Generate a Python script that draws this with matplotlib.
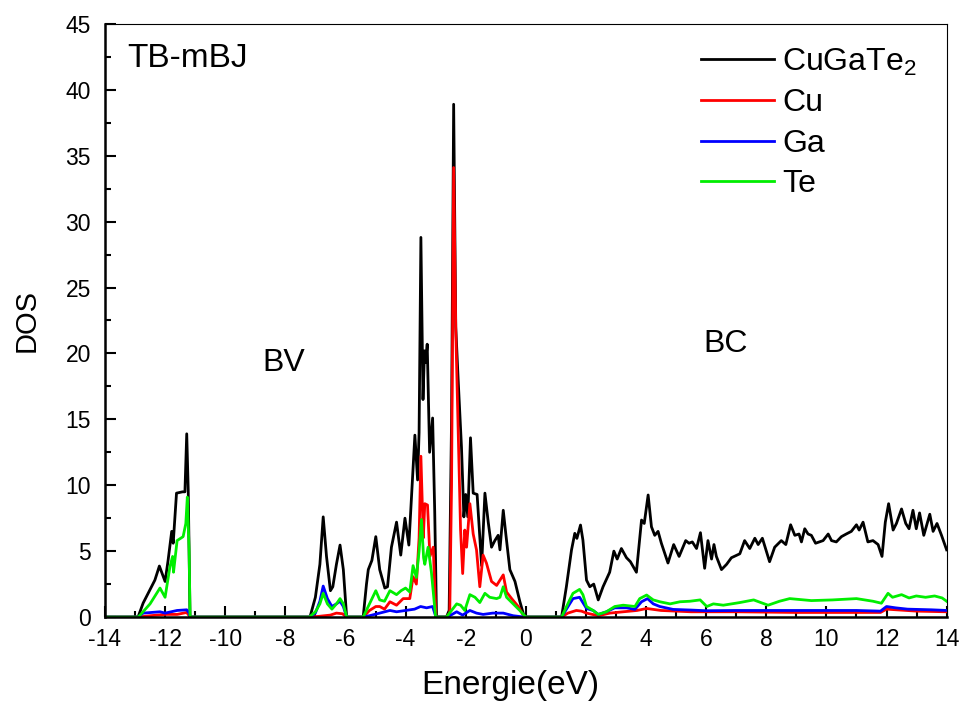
import matplotlib
matplotlib.use("Agg")
import matplotlib.pyplot as plt

plt.rcParams['font.family'] = ['Liberation Sans', 'DejaVu Sans']
plt.rcParams['mathtext.fontset'] = 'custom'
plt.rcParams['mathtext.rm'] = 'Liberation Sans'
plt.rcParams['axes.unicode_minus'] = False

# total DOS (CuGaTe2)
e_tot = [-14, -12.9, -12.73, -12.34, -12.19, -12.0, -11.9, -11.78, -11.73, -11.62, -11.42, -11.34,
         -11.28, -11.23, -11.17,
         -7.18, -7.0, -6.85, -6.74, -6.63, -6.5, -6.42, -6.3, -6.18, -6.07, -5.96,
         -5.41, -5.3, -5.24, -5.12, -4.99, -4.86, -4.69, -4.6, -4.47, -4.3, -4.16, -4.02, -3.89,
         -3.69, -3.6, -3.55, -3.49, -3.42, -3.37, -3.33, -3.28, -3.2, -3.1, -3.03, -2.97,
         -2.64, -2.55, -2.47, -2.4, -2.33, -2.25, -2.14, -2.06, -2.0, -1.93, -1.84, -1.75, -1.62,
         -1.47, -1.36, -1.25, -1.14, -1.03, -0.92, -0.86, -0.75, -0.66, -0.53, -0.36, -0.2, -0.05,
         1.19, 1.35, 1.52, 1.63, 1.7, 1.82, 1.9, 2.02, 2.13, 2.26, 2.41, 2.57, 2.79, 2.93, 3.04,
         3.18, 3.35, 3.48, 3.68, 3.85, 3.94, 4.07, 4.18, 4.29, 4.4, 4.51, 4.73, 4.92, 5.1, 5.32,
         5.43, 5.54, 5.68, 5.81, 5.95, 6.06, 6.18, 6.26, 6.34, 6.51, 6.68, 6.84, 7.12, 7.28, 7.45,
         7.62, 7.73, 7.87, 8.11, 8.28, 8.5, 8.65, 8.81, 8.95, 9.09, 9.17, 9.28, 9.39, 9.5, 9.64,
         9.89, 10.06, 10.17, 10.33, 10.5, 10.66, 10.83, 11.0, 11.09, 11.22, 11.38, 11.55, 11.72,
         11.85, 11.96, 12.07, 12.22, 12.33, 12.5, 12.64, 12.75, 12.88, 12.99, 13.1, 13.24, 13.44,
         13.55, 13.68, 13.83, 14.0]
dos_tot = [0, 0, 1.06, 2.8, 3.87, 2.7, 4.3, 6.5, 5.6, 9.4, 9.5, 9.5,
           13.9, 9.6, 0,
           0, 1.5, 4.0, 7.6, 4.6, 2.0, 2.3, 4.0, 5.46, 3.6, 0,
           0, 2.5, 3.6, 4.3, 6.1, 3.6, 2.2, 2.3, 5.3, 7.2, 4.7, 7.5, 5.46,
           13.8, 10.4, 14.0, 28.8, 16.5, 20.2, 19.3, 20.7, 12.5, 15.1, 8.0, 0,
           0, 0.5, 15.0, 38.9, 22.0, 18.0, 12.9, 7.6, 9.3, 7.6, 13.6, 9.4, 9.3,
           3.9, 9.4, 7.2, 5.3, 5.8, 6.2, 5.1, 8.1, 6.2, 3.6, 2.7, 1.2, 0,
           0, 2.3, 5.08, 6.35, 5.97, 6.98, 5.84, 2.8, 2.3, 2.5, 1.3, 2.3, 3.4, 5.0, 4.4,
           5.2, 4.5, 4.2, 3.4, 7.36, 7.1, 9.26, 6.85, 6.2, 6.5, 5.6, 4.1, 5.5, 4.6, 5.8,
           5.6, 5.7, 5.2, 6.4, 3.7, 5.8, 4.4, 5.5, 4.6, 3.6, 4.0, 4.5, 4.8, 5.8, 5.2,
           5.98, 5.5, 5.98, 4.2, 5.3, 5.8, 5.5, 7.0, 6.2, 6.3, 5.7, 6.7, 6.3, 6.2, 5.6,
           5.8, 6.3, 5.8, 5.7, 6.1, 6.3, 6.5, 7.0, 6.6, 7.2, 5.7, 5.8, 5.5,
           4.6, 7.2, 8.6, 6.6, 7.1, 8.2, 7.1, 6.7, 8.1, 6.7, 7.9, 6.2, 7.8,
           6.5, 7.1, 6.2, 5.1]

# Cu partial DOS
e_cu = [-14, -12.9, -12.5, -12.0, -11.6, -11.28, -11.17,
        -7.2, -6.9, -6.5, -6.3, -6.1, -5.96,
        -5.41, -5.2, -4.99, -4.86, -4.7, -4.52, -4.3, -4.08, -3.86, -3.75, -3.64, -3.55, -3.49,
        -3.41, -3.36, -3.27, -3.19, -3.08, -2.99,
        -2.64, -2.53, -2.47, -2.4, -2.33, -2.25, -2.17, -2.1, -2.03, -1.97, -1.86, -1.75, -1.64,
        -1.53, -1.42, -1.31, -1.14, -0.97, -0.75, -0.64, -0.47, -0.25, -0.05,
        1.19, 1.4, 1.68, 1.85, 2.02, 2.41, 2.8, 3.24, 3.7, 4.02, 4.5, 5.5, 7.0, 9.0, 11.0, 11.8,
        12.0, 13.0, 14.0]
dos_cu = [0, 0, 0.1, 0.2, 0.2, 0.35, 0,
          0, 0.05, 0.15, 0.3, 0.25, 0,
          0, 0.5, 0.8, 0.8, 0.6, 1.16, 0.9, 1.4, 1.4, 3.06, 2.5, 6.0, 12.2,
          6.0, 8.6, 8.5, 4.6, 5.3, 0,
          0, 0.3, 10.0, 34.1, 21.8, 14.2, 6.6, 3.3, 6.6, 5.3, 8.6, 6.3, 5.1,
          2.3, 4.7, 4.1, 2.7, 2.4, 3.2, 1.9, 1.4, 0.8, 0,
          0, 0.3, 0.5, 0.45, 0.3, 0.1, 0.3, 0.4, 0.5, 0.65, 0.5, 0.4, 0.4, 0.35, 0.35, 0.35,
          0.6, 0.45, 0.4]

# Ga partial DOS
e_ga = [-14, -12.9, -12.73, -12.17, -12.0, -11.6, -11.28, -11.2, -11.17,
        -7.2, -7.0, -6.85, -6.74, -6.6, -6.45, -6.3, -6.18, -6.07, -5.96,
        -5.41, -5.2, -4.86, -4.52, -4.3, -4.0, -3.7, -3.5, -3.3, -3.1, -2.99,
        -2.64, -2.53, -2.3, -2.1, -1.86, -1.64, -1.42, -1.1, -0.75, -0.42, -0.05,
        1.19, 1.46, 1.57, 1.79, 2.02, 2.24, 2.41, 2.68, 2.96, 3.35, 3.63, 3.85, 4.05, 4.24, 4.46,
        4.9, 5.5, 6.0, 7.0, 9.0, 11.0, 11.8, 12.0, 12.3, 12.7, 13.5, 14.0]
dos_ga = [0, 0, 0.3, 0.4, 0.3, 0.5, 0.55, 0.3, 0,
          0, 0.3, 1.2, 2.35, 1.4, 0.8, 1.0, 1.2, 0.8, 0,
          0, 0.1, 0.3, 0.5, 0.4, 0.5, 0.6, 0.8, 0.7, 0.8, 0,
          0, 0.1, 0.4, 0.15, 0.5, 0.3, 0.2, 0.3, 0.3, 0.1, 0,
          0, 1.0, 1.4, 1.5, 0.65, 0.5, 0.2, 0.4, 0.7, 0.7, 0.58, 1.16, 1.4, 1.0, 0.8,
          0.58, 0.53, 0.48, 0.5, 0.5, 0.5, 0.45, 0.8, 0.7, 0.6, 0.55, 0.5]

# Te partial DOS
e_te = [-14, -12.89, -12.5, -12.17, -12.0, -11.84, -11.75, -11.72, -11.6, -11.4, -11.31, -11.26,
        -11.2, -11.17,
        -7.2, -7.0, -6.85, -6.74, -6.6, -6.45, -6.3, -6.18, -6.07, -5.96,
        -5.41, -5.2, -4.99, -4.86, -4.7, -4.52, -4.3, -4.15, -4.0, -3.86, -3.75, -3.64, -3.55,
        -3.47, -3.4, -3.36, -3.25, -3.14, -3.0,
        -2.64, -2.47, -2.3, -2.17, -2.03, -1.86, -1.69, -1.53, -1.36, -1.2, -0.97, -0.86, -0.75,
        -0.64, -0.42, -0.2, 0.0,
        1.19, 1.46, 1.57, 1.68, 1.79, 1.9, 2.02, 2.24, 2.41, 2.68, 2.96, 3.24, 3.63, 3.79, 4.02,
        4.24, 4.46, 4.8, 5.13, 5.46, 5.8, 6.02, 6.24, 6.57, 7.12, 7.58, 8.06, 8.44, 8.78, 9.5,
        10.2, 11.0, 11.55, 11.83, 12.05, 12.2, 12.5, 12.75, 12.99, 13.3, 13.6, 13.85, 14.0]
dos_te = [0, 0, 1.0, 2.2, 1.5, 3.8, 4.6, 3.4, 5.8, 6.1, 7.1, 9.1,
          5.0, 0,
          0, 0.4, 1.0, 1.8, 1.0, 0.6, 1.0, 1.4, 1.0, 0,
          0, 1.0, 2.0, 1.3, 1.2, 2.0, 1.7, 2.0, 2.2, 1.9, 3.9, 3.0, 5.0,
          7.4, 4.5, 4.0, 5.3, 3.4, 0,
          0, 0.5, 1.0, 0.9, 0.5, 1.7, 1.5, 1.1, 1.8, 1.5, 1.4, 1.5, 2.3,
          1.5, 1.0, 0.5, 0,
          0, 1.3, 1.8, 1.95, 2.1, 1.7, 0.8, 0.5, 0.2, 0.4, 0.8, 0.9, 0.8, 1.4, 1.67,
          1.3, 1.16, 1.0, 1.16, 1.2, 1.3, 0.8, 1.0, 0.9, 1.1, 1.3, 0.9, 1.2, 1.4, 1.25,
          1.3, 1.4, 1.2, 1.05, 1.8, 1.5, 1.7, 1.45, 1.6, 1.5, 1.6, 1.45, 1.2]

fig = plt.figure(figsize=(9.63, 7.02), dpi=100)
ax = fig.add_axes([0.109, 0.121, 0.874, 0.845])

ax.plot(e_tot, dos_tot, color='black', lw=2.0, label='CuGaTe$_2$')
ax.plot(e_cu, dos_cu, color='#ff0000', lw=2.0, label='Cu')
ax.plot(e_ga, dos_ga, color='#0000ff', lw=2.0, label='Ga')
ax.plot(e_te, dos_te, color='#00ee00', lw=2.0, label='Te')

ax.set_xlim(-14, 14)
ax.set_ylim(0, 45)
ax.set_xticks(range(-14, 15, 2))
ax.set_xticks(range(-13, 14, 2), minor=True)
ax.set_yticks(range(0, 46, 5))
ax.set_yticks([v + 2.5 for v in range(0, 45, 5)], minor=True)
ax.tick_params(which='both', direction='in', top=False, right=False, width=1.5,
               labelsize=16.5)
ax.tick_params(axis='x', pad=8)
ax.tick_params(axis='y', pad=10)
ax.tick_params(which='major', length=8)
ax.tick_params(which='minor', length=4)

for side in ['left', 'bottom']:
    ax.spines[side].set_linewidth(1.8)
for side in ['top', 'right']:
    ax.spines[side].set_linewidth(0.8)

ax.set_xlabel('Energie(eV)', fontsize=24, va='baseline')
ax.xaxis.set_label_coords(0.482, -0.129)
ax.set_ylabel('DOS', fontsize=21, labelpad=18)

ax.text(-13.25, 42.4, 'TB-mBJ', fontsize=24, va='center')
ax.text(-8.75, 19.3, 'BV', fontsize=23, va='center')
ax.text(5.9, 20.7, 'BC', fontsize=23, va='center')

ax.legend(loc='upper right', frameon=False, fontsize=23, handlelength=2.3,
          handletextpad=0.25, labelspacing=0.33, borderaxespad=0.3,
          bbox_to_anchor=(0.991, 1.0))

fig.savefig('out.png', dpi=100)
